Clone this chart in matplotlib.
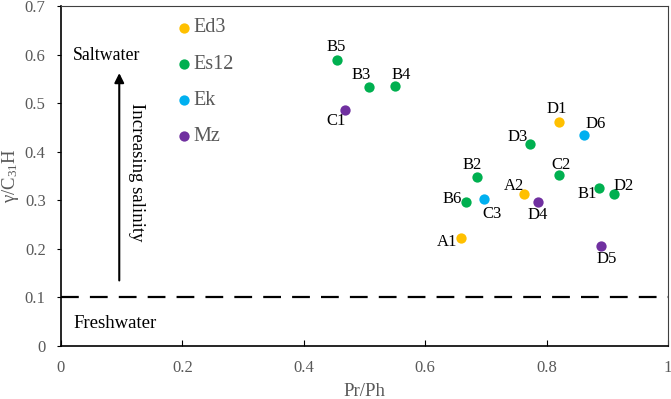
import matplotlib
matplotlib.use("Agg")
import matplotlib.pyplot as plt

plt.rcParams['font.family'] = ['Liberation Serif', 'DejaVu Serif']
plt.rcParams['mathtext.fontset'] = 'custom'
plt.rcParams['mathtext.rm'] = 'Liberation Serif'
plt.rcParams['mathtext.it'] = 'Liberation Serif'

# data
names = ['A1', 'A2', 'D1',
         'B5', 'B3', 'B4', 'D3', 'B2', 'C2', 'B1', 'D2', 'B6',
         'D6', 'C3',
         'C1', 'D4', 'D5']
groups = ['Ed3', 'Ed3', 'Ed3',
          'Es12', 'Es12', 'Es12', 'Es12', 'Es12', 'Es12', 'Es12', 'Es12', 'Es12',
          'Ek', 'Ek',
          'Mz', 'Mz', 'Mz']
pr_ph = [0.659, 0.763, 0.821,
         0.454, 0.508, 0.550, 0.772, 0.685, 0.821, 0.886, 0.911, 0.668,
         0.862, 0.697,
         0.468, 0.786, 0.890]
gamma = [0.223, 0.314, 0.462,
         0.589, 0.534, 0.536, 0.416, 0.347, 0.353, 0.325, 0.314, 0.296,
         0.435, 0.302,
         0.486, 0.296, 0.206]

legend_names = ['Ed3', 'Es12', 'Ek', 'Mz']
legend_y = [0.655, 0.580, 0.506, 0.432]
colors = {'Ed3': '#FFC000', 'Es12': '#00B050', 'Ek': '#00B0F0', 'Mz': '#7030A0'}

# label offsets in pixels
offsets = {'A1': (-14, -4), 'A2': (-10, 8), 'D1': (-3, 13),
           'B5': (0, 13), 'B3': (-8, 12), 'B4': (6, 11), 'D3': (-12, 7),
           'B2': (-5, 12), 'C2': (2, 10), 'B1': (-12, -6), 'D2': (10, 8),
           'B6': (-14, 3), 'D6': (11, 11), 'C3': (8, -15),
           'C1': (-9, -11), 'D4': (0, -13), 'D5': (5, -13)}

gray = '#595959'

fig = plt.figure(figsize=(6.71, 3.99), dpi=100)
ax = fig.add_axes([0.0909, 0.1328, 0.9046, 0.852])

for n, g, x, y in zip(names, groups, pr_ph, gamma):
    ax.scatter(x, y, s=55, color=colors[g], zorder=3, linewidths=0)
    dx, dy = offsets[n]
    ax.annotate(n, (x, y), xytext=(dx, dy), textcoords='offset pixels',
                ha='center', va='center', fontsize=12, color='black')

for n, y in zip(legend_names, legend_y):
    ax.scatter(0.2026, y, s=55, color=colors[n], linewidths=0, zorder=3)
    ax.text(0.219, y, n, fontsize=14.5, color=gray, va='center', ha='left')

ax.axhline(0.1, color='black', lw=1.6, dashes=(8, 5))
ax.annotate('', xy=(0.096, 0.562), xytext=(0.096, 0.135),
            arrowprops=dict(arrowstyle='-|>', color='black', lw=1.5,
                            mutation_scale=14, shrinkA=0, shrinkB=0))
ax.text(0.124, 0.357, 'Increasing salinity', rotation=-90, fontsize=13.5,
        ha='center', va='center')
ax.text(0.02, 0.598, 'Saltwater', fontsize=12.8, va='center', ha='left')
ax.text(0.02, 0.047, 'Freshwater', fontsize=13.5, va='center', ha='left')

ax.set_xlim(0, 1)
ax.set_ylim(0, 0.7)
ax.set_xticks([0, 0.2, 0.4, 0.6, 0.8, 1])
ax.set_xticklabels(['0', '0.2', '0.4', '0.6', '0.8', '1'])
ax.set_yticks([0, 0.1, 0.2, 0.3, 0.4, 0.5, 0.6, 0.7])
ax.set_yticklabels(['0', '0.1', '0.2', '0.3', '0.4', '0.5', '0.6', '0.7'])
ax.tick_params(axis='x', direction='in', length=4, labelsize=12,
               labelcolor=gray, pad=10)
ax.tick_params(axis='y', direction='out', length=3, labelsize=12,
               labelcolor=gray, pad=8)
for s in ['left', 'bottom']:
    ax.spines[s].set_linewidth(1.2)
for s in ['top', 'right']:
    ax.spines[s].set_color('#404040')
    ax.spines[s].set_linewidth(0.8)

ax.set_xlabel('Pr/Ph', fontsize=13.5, color=gray, labelpad=5)
ax.set_ylabel(r'$\gamma$/C$_{31}$H', fontsize=13.5, color=gray, labelpad=3)

fig.savefig('out.png', dpi=100)
